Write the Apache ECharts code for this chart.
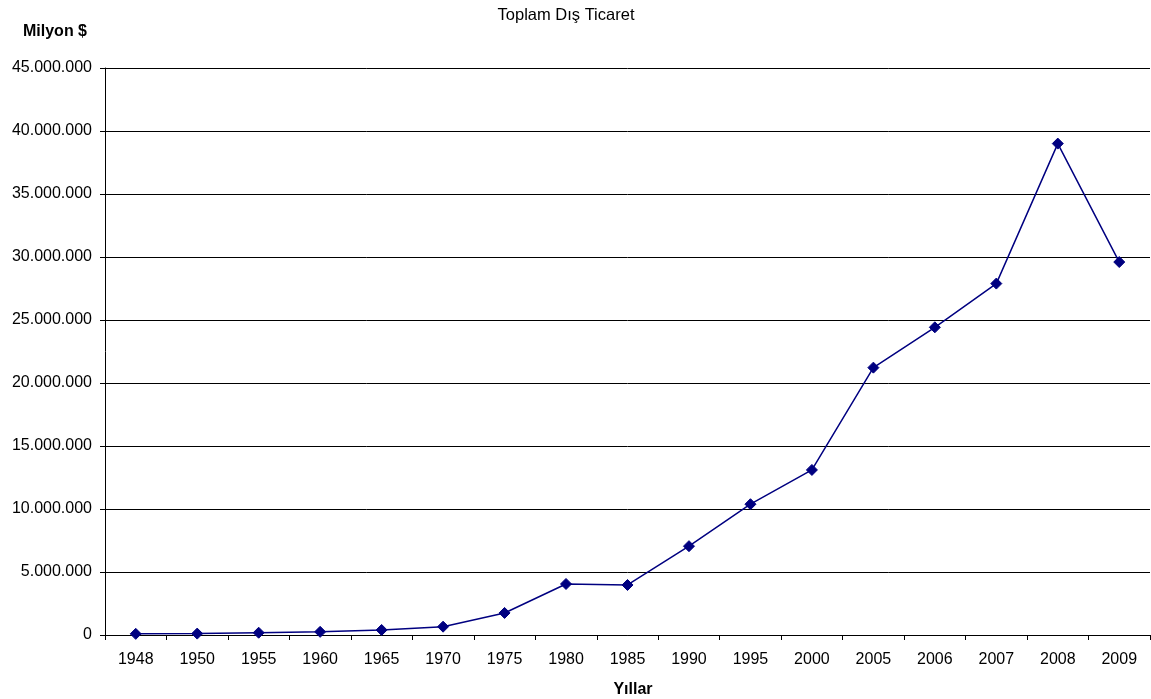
<!DOCTYPE html>
<html>
<head>
<meta charset="utf-8">
<script src="https://cdn.jsdelivr.net/npm/echarts@6/dist/echarts.min.js"></script>
<style>
  html, body { margin: 0; padding: 0; background: #fff; }
  #chart { width: 1151px; height: 699px; }
</style>
</head>
<body>
<div id="chart"></div>
<script>
// Yıllar (categories) and total foreign trade values
const years = ['1948', '1950', '1955', '1960', '1965', '1970', '1975', '1980', '1985',
  '1990', '1995', '2000', '2005', '2006', '2007', '2008', '2009'];
const totalTrade = [90000, 110000, 180000, 250000, 400000, 660000, 1750000, 4050000, 3970000,
  7050000, 10380000, 13100000, 21220000, 24420000, 27890000, 39000000, 29600000];
const yMax = 45000000;
const yStep = 5000000;

function fmtDots(v) {
  return String(Math.round(v)).replace(/\B(?=(\d{3})+(?!\d))/g, '.');
}

const chart = echarts.init(document.getElementById('chart'), null, { renderer: 'canvas' });
const font = '"Liberation Sans", Arial, sans-serif';

chart.setOption({
  animation: false,
  backgroundColor: '#ffffff',
  title: [
    {
      text: 'Toplam Dış Ticaret',
      left: 561, top: 2, textAlign: 'center',
      textStyle: { fontFamily: font, fontSize: 16.5, fontWeight: 'normal', color: '#000' }
    },
    {
      text: 'Milyon $',
      left: 50, top: 19, textAlign: 'center',
      textStyle: { fontFamily: font, fontSize: 16, fontWeight: 'bold', color: '#000' }
    },
    {
      text: 'Yıllar',
      left: 628, top: 677, textAlign: 'center',
      textStyle: { fontFamily: font, fontSize: 16, fontWeight: 'bold', color: '#000' }
    }
  ],
  grid: { left: 105, right: 1, top: 68, bottom: 64, containLabel: false },
  xAxis: {
    type: 'category',
    data: years,
    boundaryGap: true,
    axisLine: { lineStyle: { color: '#000', width: 1 } },
    axisTick: { show: true, alignWithLabel: false, length: 5, lineStyle: { color: '#000' } },
    axisLabel: { fontFamily: font, fontSize: 16, color: '#000', margin: 17, interval: 0 },
    splitLine: { show: false }
  },
  yAxis: {
    type: 'value',
    min: 0, max: yMax, interval: yStep,
    axisLine: { show: true, lineStyle: { color: '#000', width: 1 } },
    axisTick: { show: true, length: 5, lineStyle: { color: '#000' } },
    axisLabel: { fontFamily: font, fontSize: 16, color: '#000', margin: 13, formatter: fmtDots },
    splitLine: { show: true, lineStyle: { color: '#000', width: 1 } }
  },
  series: [{
    type: 'line',
    data: totalTrade,
    symbol: 'diamond',
    symbolSize: 11,
    showAllSymbol: true,
    lineStyle: { color: '#000080', width: 1.5 },
    itemStyle: { color: '#000080', borderColor: '#000080', borderWidth: 1 }
  }]
});
</script>
</body>
</html>
